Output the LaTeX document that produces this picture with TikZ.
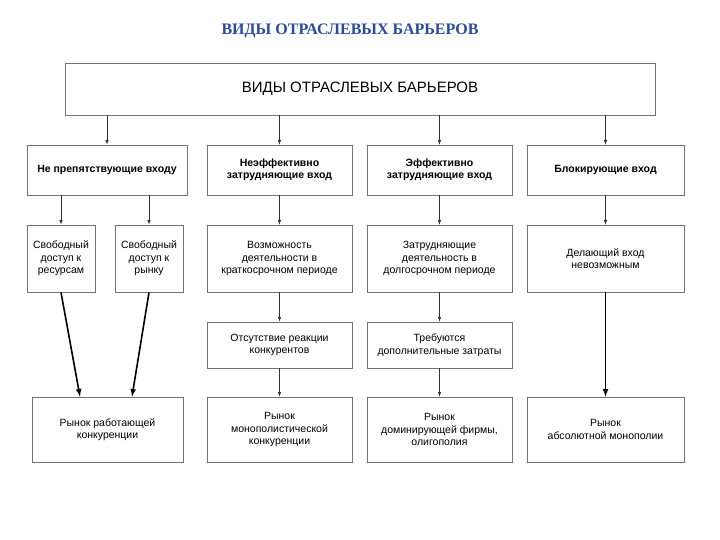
\documentclass[tikz,border=0pt]{standalone}
\usepackage{fontspec}
\setmainfont{Liberation Sans}
\newfontfamily\titlefont{Liberation Serif}
\definecolor{tblue}{RGB}{40,75,160}
\begin{document}
\begin{tikzpicture}[x=1pt,y=-1pt,
 box/.style={draw=black!55,line width=0.8pt,fill=white,align=center,inner sep=1pt,font=\fontsize{10.5}{12.5}\selectfont},
 arr/.style={-latex,line width=0.6pt,draw=black!80},
 arrt/.style={-latex,line width=1.6pt}]
\useasboundingbox (0,0) rectangle (720,540);
\node[font=\titlefont\bfseries\fontsize{16}{18}\selectfont,text=tblue] (title) at (350,31) {ВИДЫ ОТРАСЛЕВЫХ БАРЬЕРОВ};
\node[box,minimum width=590,minimum height=52,font=\fontsize{15}{17}\selectfont] (top) at (360,89) {ВИДЫ ОТРАСЛЕВЫХ БАРЬЕРОВ};
\node[box,minimum width=160,minimum height=50,font=\bfseries\fontsize{10.5}{12.5}\selectfont] (r1) at (107,170) {Не препятствующие входу};
\node[box,minimum width=145,minimum height=50,font=\bfseries\fontsize{10.5}{12.5}\selectfont] (r2) at (279.5,170) {Неэффективно\\затрудняющие вход};
\node[box,minimum width=145,minimum height=50,font=\bfseries\fontsize{10.5}{12.5}\selectfont] (r3) at (439.5,170) {Эффективно\\затрудняющие вход};
\node[box,minimum width=157,minimum height=50,font=\bfseries\fontsize{10.5}{12.5}\selectfont] (r4) at (605.5,170) {Блокирующие вход};
\node[box,minimum width=68,minimum height=67] (a) at (61,258.5) {Свободный\\доступ к\\ресурсам};
\node[box,minimum width=68,minimum height=67] (b) at (149,258.5) {Свободный\\доступ к\\рынку};
\node[box,minimum width=145,minimum height=67] (c) at (279.5,258.5) {Возможность\\деятельности в\\краткосрочном периоде};
\node[box,minimum width=145,minimum height=67] (d) at (439.5,258.5) {Затрудняющие\\деятельность в\\долгосрочном периоде};
\node[box,minimum width=157,minimum height=67] (e) at (605.5,258.5) {Делающий вход\\невозможным};
\node[box,minimum width=145,minimum height=46] (f) at (279.5,345) {Отсутствие реакции\\конкурентов};
\node[box,minimum width=145,minimum height=46] (g) at (439.5,345) {Требуются\\дополнительные затраты};
\node[box,minimum width=151,minimum height=65] (h) at (107.5,429.5) {Рынок работающей\\конкуренции};
\node[box,minimum width=145,minimum height=65] (i) at (279.5,429.5) {Рынок\\монополистической\\конкуренции};
\node[box,minimum width=145,minimum height=65] (j) at (439.5,429.5) {Рынок\\доминирующей фирмы,\\олигополия};
\node[box,minimum width=157,minimum height=65] (k) at (605.5,429.5) {Рынок\\абсолютной монополии};
\draw[arr] (top.south -| r1) -- (r1.north);
\draw[arr] (top.south -| r2) -- (r2.north);
\draw[arr] (top.south -| r3) -- (r3.north);
\draw[arr] (top.south -| r4) -- (r4.north);
\draw[arr] (r1.south -| a) -- (a.north);
\draw[arr] (r1.south -| b) -- (b.north);
\draw[arr] (r2.south) -- (c.north);
\draw[arr] (r3.south) -- (d.north);
\draw[arr] (r4.south) -- (e.north);
\draw[arr] (c.south) -- (f.north);
\draw[arr] (d.south) -- (g.north);
\draw[arr] (f.south) -- (i.north);
\draw[arr] (g.south) -- (j.north);
\draw[arrt] (a.south) -- (h.north -| 80,0);
\draw[arrt] (b.south) -- (h.north -| 132,0);
\draw[arrt] (e.south) -- (k.north);
\end{tikzpicture}
\end{document}
